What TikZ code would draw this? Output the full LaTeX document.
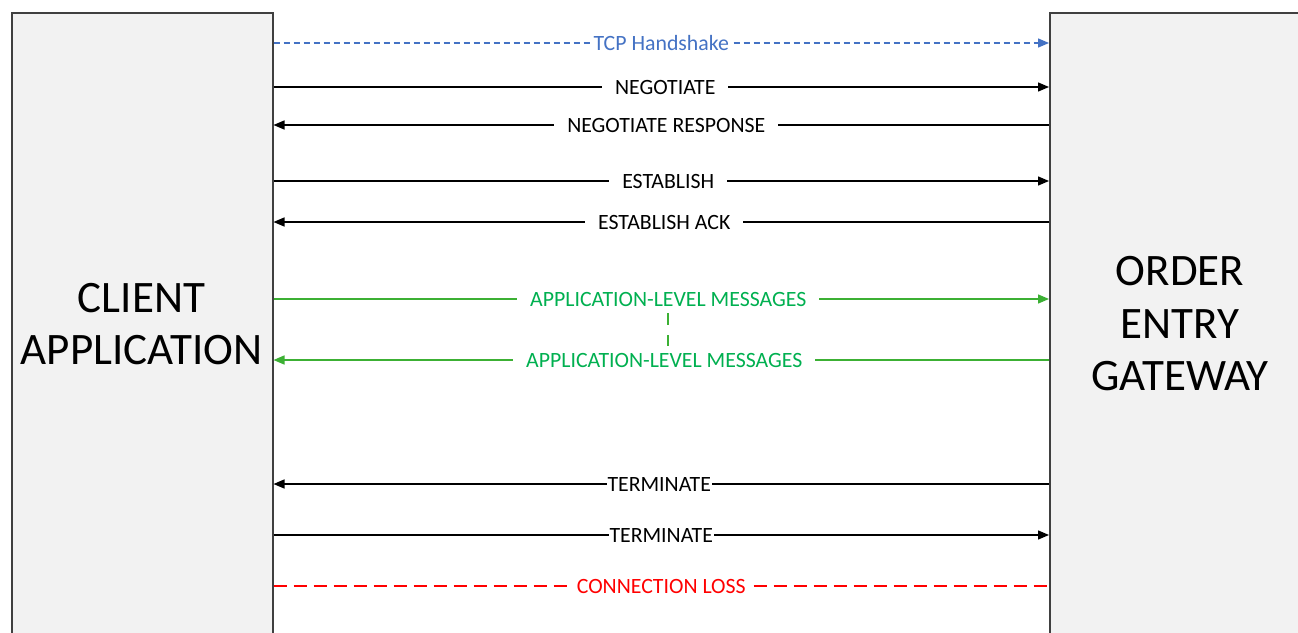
\documentclass[tikz,border=0pt]{standalone}
\usepackage{fontspec}
\setmainfont{Carlito}
\usetikzlibrary{arrows.meta}
\definecolor{boxfill}{HTML}{F2F2F2}
\definecolor{boxline}{HTML}{404040}
\definecolor{tcpblue}{HTML}{4472C4}
\definecolor{appline}{HTML}{3CB034}
\definecolor{apptext}{HTML}{00B050}
\definecolor{lossred}{HTML}{FF0000}
\begin{document}
\begin{tikzpicture}[x=1pt,y=-1pt,
  box/.style={draw=boxline, fill=boxfill, line width=1.5pt, minimum width=261pt, minimum height=660pt, anchor=north west, inner sep=0pt},
  bigtext/.style={font=\fontsize{45}{52.5}\selectfont, align=center},
  msg/.style={line width=1.4pt, -{Triangle[length=11pt,width=9pt]}},
  lbl/.style={fill=white, inner ysep=1pt, inner xsep=13pt, font=\fontsize{21.8}{26}\selectfont},
  tight/.style={inner xsep=1pt},
  tcp/.style={draw=tcpblue, dash pattern=on 6pt off 4pt, text=tcpblue},
  app/.style={draw=appline, text=apptext},
  loss/.style={draw=lossred, line width=1.4pt, dash pattern=on 13pt off 7pt},
]
\clip (0,0) rectangle (1298,632);
\fill[white] (0,0) rectangle (1298,632);
\node[box] (client) at (11,12) {};
\node[box] (gateway) at (1049,12) {};
\node[bigtext] (clienttext) at (141.5,324) {CLIENT\\APPLICATION};
\node[bigtext] (gatewaytext) at (1180,324) {ORDER\\ENTRY\\GATEWAY};

\draw[msg, tcp] (client.east |- 0,43) -- node[lbl, tight, text=tcpblue] {TCP Handshake} (gateway.west |- 0,43);
\draw[msg] (client.east |- 0,87) -- node[lbl, xshift=4pt] {NEGOTIATE} (gateway.west |- 0,87);
\draw[msg] (gateway.west |- 0,125) -- node[lbl, xshift=5pt] {NEGOTIATE RESPONSE} (client.east |- 0,125);
\draw[msg] (client.east |- 0,181) -- node[lbl, xshift=7pt] {ESTABLISH} (gateway.west |- 0,181);
\draw[msg] (gateway.west |- 0,222) -- node[lbl, xshift=3pt] {ESTABLISH ACK} (client.east |- 0,222);
\draw[msg, app] (client.east |- 0,299) -- node[lbl, xshift=7pt, text=apptext] (app1) {APPLICATION-LEVEL MESSAGES} (gateway.west |- 0,299);
\draw[msg, app] (gateway.west |- 0,360) -- node[lbl, xshift=3pt, text=apptext] (app2) {APPLICATION-LEVEL MESSAGES} (client.east |- 0,360);
\draw[app, line width=1.4pt, dash pattern=on 12pt off 10pt] (668,313) -- (668,346);
\draw[msg] (gateway.west |- 0,484) -- node[lbl, tight, xshift=-2pt] {TERMINATE} (client.east |- 0,484);
\draw[msg] (client.east |- 0,535) -- node[lbl, tight] {TERMINATE} (gateway.west |- 0,535);
\draw[loss] (client.east |- 0,586) -- node[lbl, inner xsep=5pt, text=lossred] {CONNECTION LOSS} (gateway.west |- 0,586);
\end{tikzpicture}
\end{document}
